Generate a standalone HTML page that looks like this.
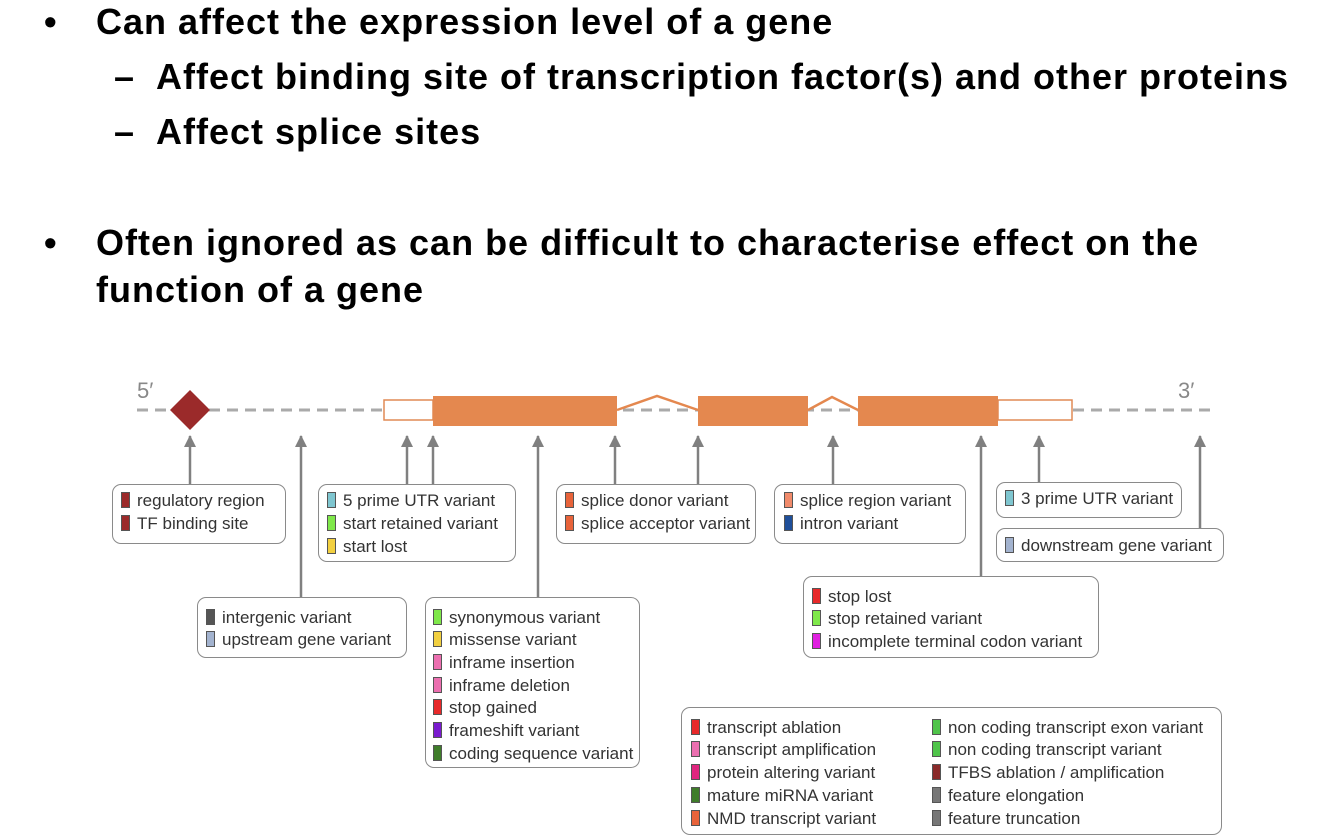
<!DOCTYPE html>
<html><head><meta charset="utf-8"><style>
body{margin:0;width:1334px;height:839px;background:#fff;position:relative;overflow:hidden;font-family:"Liberation Sans",sans-serif}
.h{position:absolute;font-weight:bold;font-size:36px;letter-spacing:1px;color:#000;white-space:nowrap;line-height:40px}
.b{position:absolute;border:1.5px solid #8a8a8a;border-radius:9px;background:#fff;box-sizing:border-box}
.i{position:absolute;font-size:17px;color:#333;white-space:nowrap;line-height:20px}
.i span{display:inline-block;width:9px;height:16px;border:1px solid #555;vertical-align:-2px;margin-right:7px;box-sizing:border-box}
</style></head><body>
<div class="h" style="left:44px;top:2px">•</div>
<div class="h" style="left:96px;top:2px">Can affect the expression level of a gene</div>
<div class="h" style="left:114px;top:57px">–</div>
<div class="h" style="left:156px;top:57px">Affect binding site of transcription factor(s) and other proteins</div>
<div class="h" style="left:114px;top:112px">–</div>
<div class="h" style="left:156px;top:112px">Affect splice sites</div>
<div class="h" style="left:44px;top:223px">•</div>
<div class="h" style="left:96px;top:223px">Often ignored as can be difficult to characterise effect on the</div>
<div class="h" style="left:96px;top:270px">function of a gene</div>

<svg style="position:absolute;left:0;top:0" width="1334" height="839">
<defs><marker id="a" markerUnits="userSpaceOnUse" markerWidth="12" markerHeight="12" refX="11" refY="6" orient="auto"><path d="M0,0 L12,6 L0,12 z" fill="#808080"/></marker></defs>
<text x="137" y="398" font-family="Liberation Sans" font-size="22" fill="#888">5′</text>
<text x="1178" y="398" font-family="Liberation Sans" font-size="22" fill="#888">3′</text>
<line x1="137" y1="410" x2="1212" y2="410" stroke="#aaa" stroke-width="3" stroke-dasharray="11,7"/>
<polygon points="190,390 210,410 190,430 170,410" fill="#9b2a2a"/>
<rect x="384" y="400" width="49" height="20" fill="#fff" stroke="#e08a55" stroke-width="1.5"/>
<rect x="998" y="400" width="74" height="20" fill="#fff" stroke="#e08a55" stroke-width="1.5"/>
<rect x="433" y="396" width="184" height="30" fill="#e4884f"/>
<rect x="698" y="396" width="110" height="30" fill="#e4884f"/>
<rect x="858" y="396" width="140" height="30" fill="#e4884f"/>
<polyline points="617,410 657,396 698,410" fill="none" stroke="#e4884f" stroke-width="2.5"/>
<polyline points="808,410 832,397 858,410" fill="none" stroke="#e4884f" stroke-width="2.5"/>
<g stroke="#808080" stroke-width="2.5" marker-end="url(#a)">
<line x1="190" y1="488" x2="190" y2="436"/>
<line x1="301" y1="597" x2="301" y2="436"/>
<line x1="407" y1="484" x2="407" y2="436"/>
<line x1="433" y1="484" x2="433" y2="436"/>
<line x1="538" y1="597" x2="538" y2="436"/>
<line x1="615" y1="484" x2="615" y2="436"/>
<line x1="698" y1="484" x2="698" y2="436"/>
<line x1="833" y1="484" x2="833" y2="436"/>
<line x1="981" y1="576" x2="981" y2="436"/>
<line x1="1039" y1="482" x2="1039" y2="436"/>
<line x1="1200" y1="528" x2="1200" y2="436"/>
</g>
</svg>

<div class="b" style="left:112px;top:484px;width:174px;height:60px"></div>
<div class="i" style="left:121px;top:491px"><span style="background:#9b2a2a"></span>regulatory region</div>
<div class="i" style="left:121px;top:514px"><span style="background:#9b2a2a"></span>TF binding site</div>

<div class="b" style="left:318px;top:484px;width:198px;height:78px"></div>
<div class="i" style="left:327px;top:491px"><span style="background:#7fc6d0"></span>5 prime UTR variant</div>
<div class="i" style="left:327px;top:514px"><span style="background:#7fe84a"></span>start retained variant</div>
<div class="i" style="left:327px;top:537px"><span style="background:#f2d040"></span>start lost</div>

<div class="b" style="left:556px;top:484px;width:200px;height:60px"></div>
<div class="i" style="left:565px;top:491px"><span style="background:#e8633a"></span>splice donor variant</div>
<div class="i" style="left:565px;top:514px"><span style="background:#e8633a"></span>splice acceptor variant</div>

<div class="b" style="left:774px;top:484px;width:192px;height:60px"></div>
<div class="i" style="left:784px;top:491px"><span style="background:#f08a6a"></span>splice region variant</div>
<div class="i" style="left:784px;top:514px"><span style="background:#1f4f9a"></span>intron variant</div>

<div class="b" style="left:996px;top:482px;width:186px;height:36px"></div>
<div class="i" style="left:1005px;top:489px"><span style="background:#7fc6d0"></span>3 prime UTR variant</div>

<div class="b" style="left:996px;top:528px;width:228px;height:34px"></div>
<div class="i" style="left:1005px;top:536px"><span style="background:#a3b3cf"></span>downstream gene variant</div>

<div class="b" style="left:197px;top:597px;width:210px;height:61px"></div>
<div class="i" style="left:206px;top:608px"><span style="background:#555"></span>intergenic variant</div>
<div class="i" style="left:206px;top:630px"><span style="background:#a3b3cf"></span>upstream gene variant</div>

<div class="b" style="left:425px;top:597px;width:215px;height:171px"></div>
<div class="i" style="left:433px;top:608px"><span style="background:#7fe84a"></span>synonymous variant</div>
<div class="i" style="left:433px;top:630px"><span style="background:#f2d040"></span>missense variant</div>
<div class="i" style="left:433px;top:653px"><span style="background:#ec6fb0"></span>inframe insertion</div>
<div class="i" style="left:433px;top:676px"><span style="background:#ec6fb0"></span>inframe deletion</div>
<div class="i" style="left:433px;top:698px"><span style="background:#e8292a"></span>stop gained</div>
<div class="i" style="left:433px;top:721px"><span style="background:#7a1bcf"></span>frameshift variant</div>
<div class="i" style="left:433px;top:744px"><span style="background:#3f7d2a"></span>coding sequence variant</div>

<div class="b" style="left:803px;top:576px;width:296px;height:82px"></div>
<div class="i" style="left:812px;top:587px"><span style="background:#e8292a"></span>stop lost</div>
<div class="i" style="left:812px;top:609px"><span style="background:#7fe84a"></span>stop retained variant</div>
<div class="i" style="left:812px;top:632px"><span style="background:#e020e0"></span>incomplete terminal codon variant</div>

<div class="b" style="left:681px;top:707px;width:541px;height:128px"></div>
<div class="i" style="left:691px;top:718px"><span style="background:#e8292a"></span>transcript ablation</div>
<div class="i" style="left:691px;top:740px"><span style="background:#ec6fb0"></span>transcript amplification</div>
<div class="i" style="left:691px;top:763px"><span style="background:#e0267f"></span>protein altering variant</div>
<div class="i" style="left:691px;top:786px"><span style="background:#3f7d2a"></span>mature miRNA variant</div>
<div class="i" style="left:691px;top:809px"><span style="background:#e8633a"></span>NMD transcript variant</div>
<div class="i" style="left:932px;top:718px"><span style="background:#4fc44a"></span>non coding transcript exon variant</div>
<div class="i" style="left:932px;top:740px"><span style="background:#4fc44a"></span>non coding transcript variant</div>
<div class="i" style="left:932px;top:763px"><span style="background:#8a2a2a"></span>TFBS ablation / amplification</div>
<div class="i" style="left:932px;top:786px"><span style="background:#777"></span>feature elongation</div>
<div class="i" style="left:932px;top:809px"><span style="background:#777"></span>feature truncation</div>
</body></html>
